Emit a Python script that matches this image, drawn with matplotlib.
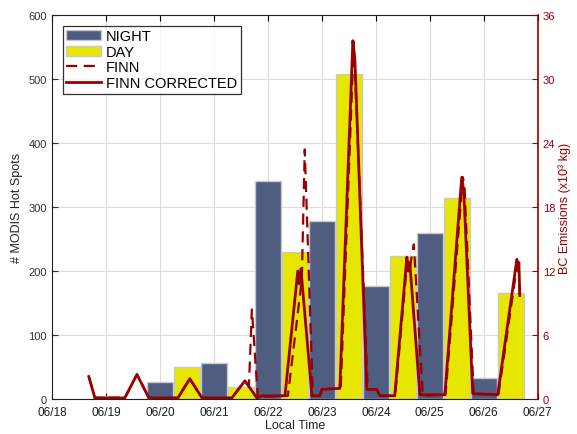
import matplotlib
matplotlib.use("Agg")
import matplotlib.pyplot as plt
from matplotlib.lines import Line2D
from matplotlib.patches import Patch

plt.rcParams['font.family'] = ['Liberation Sans', 'DejaVu Sans']

# ---- data ----
date_labels = ['06/18', '06/19', '06/20', '06/21', '06/22', '06/23', '06/24', '06/25', '06/26', '06/27']
bar_days = [1, 2, 3, 4, 5, 6, 7, 8]          # day index after 06/18
night_spots = [4, 26, 56, 340, 278, 176, 259, 33]
day_spots = [0, 50, 19, 229, 508, 224, 314, 166]

# hours since 06/18 00:00 local, BC emissions (x10^3 kg)
finn_corr_t = [16.4, 19.1, 32.4, 37.8, 43.1, 56.0, 61.3, 66.7, 80.0, 85.8, 91.1, 93.3,
               103.6, 109.3, 110.0, 110.7, 115.6, 119.1, 120.0, 128.0, 133.8, 134.7, 140.0,
               144.4, 145.8, 152.4, 157.8, 158.4, 159.1, 163.6, 174.7, 182.2, 183.1, 187.1,
               198.2, 206.7, 207.3, 207.6, 208.0]
finn_corr_v = [2.1, 0.1, 0.1, 2.3, 0.1, 0.1, 1.9, 0.1, 0.1, 1.7, 0.1, 0.3,
               0.3, 12.0, 10.8, 12.2, 0.3, 0.3, 0.9, 1.0, 33.6, 31.8, 0.9,
               0.9, 0.3, 0.3, 13.3, 12.0, 12.8, 0.4, 0.4, 20.8, 19.5, 0.5,
               0.4, 13.1, 12.0, 12.8, 9.7]

finn_t = [16.4, 19.1, 32.4, 37.8, 43.1, 56.0, 61.3, 66.7, 80.0, 85.8, 87.6, 88.9, 91.6, 93.3,
          104.9, 111.1, 112.4, 116.0, 119.1, 120.0, 128.4, 134.2, 140.4,
          144.4, 145.8, 152.6, 158.0, 159.0, 160.9, 164.9, 175.0, 182.7, 183.4, 187.5,
          198.5, 207.1, 207.6, 208.0]
finn_v = [2.1, 0.1, 0.1, 2.3, 0.1, 0.1, 1.9, 0.1, 0.1, 1.7, 1.3, 8.4, 0.0, 0.2,
          0.3, 11.2, 23.4, 0.3, 0.3, 0.9, 1.0, 33.5, 0.9,
          0.9, 0.3, 0.3, 13.0, 12.2, 14.5, 0.3, 0.4, 20.8, 20.0, 0.5,
          0.4, 13.0, 12.2, 9.7]

# ---- style ----
night_color = '#4e5d80'
day_color = '#e6e600'
red = '#990000'

fig = plt.figure(figsize=(5.77, 4.35), dpi=100)
ax = fig.add_axes([0.090, 0.0805, 0.842, 0.8825])

bar_w = 11.6
ax.bar([d * 24 for d in bar_days], night_spots, width=bar_w, color=night_color,
       edgecolor='#c8c8c8', linewidth=1.0, zorder=2)
ax.bar([d * 24 + 12 for d in bar_days], day_spots, width=bar_w, color=day_color,
       edgecolor='#c8c8c8', linewidth=1.0, zorder=2)

ax.set_xlim(0, 216)
ax.set_ylim(0, 600)
ax.set_xticks([i * 24 for i in range(len(date_labels))])
ax.set_xticklabels(date_labels, fontsize=8.5, color='#1a1a1a')
ax.set_yticks(range(0, 601, 100))
ax.tick_params(axis='y', labelsize=8, colors='#333333', direction='in', length=4)
ax.tick_params(axis='x', direction='in', length=4, top=True, pad=5)
ax.grid(True, color='#dcdcdc', linewidth=0.8)
ax.set_axisbelow(True)
ax.set_xlabel('Local Time', fontsize=9, color='#222222', labelpad=1)
ax.set_ylabel('# MODIS Hot Spots', fontsize=9, color='#222222', labelpad=4)
for s in ['left', 'top', 'bottom']:
    ax.spines[s].set_color('#222222')
ax.spines['right'].set_visible(False)

ax2 = ax.twinx()
ax2.plot(finn_t, finn_v, color=red, linewidth=1.6, linestyle=(0, (5, 3)), zorder=3)
ax2.plot(finn_corr_t, finn_corr_v, color=red, linewidth=2.0, zorder=4)
ax2.set_ylim(0, 36)
ax2.set_yticks(range(0, 37, 6))
ax2.tick_params(axis='y', labelsize=8, colors=red, direction='in', length=4)
ax2.spines['right'].set_color(red)
ax2.spines['right'].set_linewidth(1.2)
ax2.spines['left'].set_visible(False)
ax2.spines['top'].set_visible(False)
ax2.spines['bottom'].set_visible(False)
ax2.set_ylabel('BC Emissions (x10³ kg)', fontsize=9, color=red, labelpad=2)

handles = [Patch(facecolor=night_color, edgecolor='#c8c8c8'),
           Patch(facecolor=day_color, edgecolor='#c8c8c8'),
           Line2D([], [], color=red, linewidth=1.6, linestyle=(0, (5, 3))),
           Line2D([], [], color=red, linewidth=2.0)]
leg = ax2.legend(handles, ['NIGHT', 'DAY', 'FINN', 'FINN CORRECTED'], loc='upper left',
                 bbox_to_anchor=(0.022, 0.972), fontsize=10.5, frameon=True, fancybox=False,
                 borderpad=0.25, labelspacing=0.1, handlelength=2.4, handletextpad=0.3,
                 borderaxespad=0)
leg.get_frame().set_edgecolor('black')
leg.get_frame().set_linewidth(0.9)

fig.savefig('out.png', dpi=100)
